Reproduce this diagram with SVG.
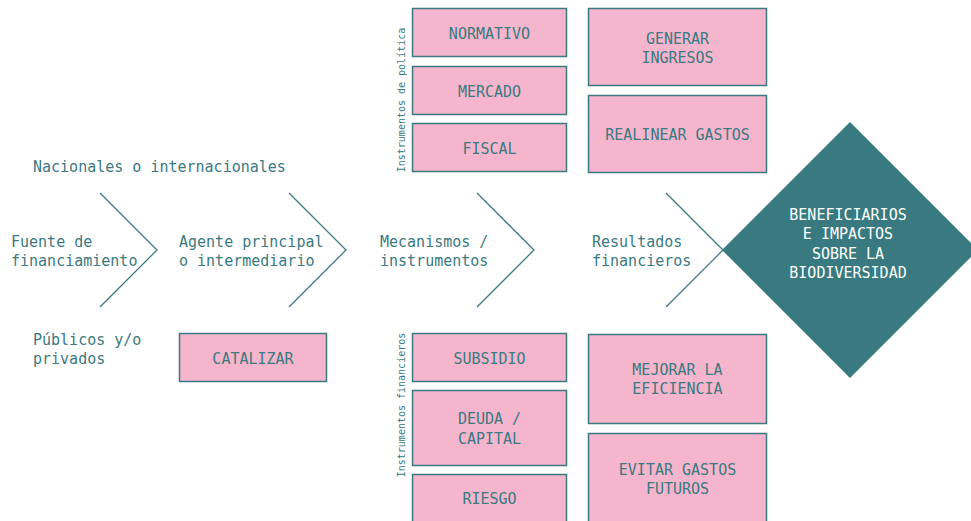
<svg xmlns="http://www.w3.org/2000/svg" width="971" height="521" viewBox="0 0 971 521">
<style>
.box{fill:#f5b5cc;stroke:#3b7a80;stroke-width:1.5}
.bt{font-family:"DejaVu Sans Mono","Liberation Mono",monospace;font-size:15px;fill:#3b7a80;text-anchor:middle}
.lb{font-family:"DejaVu Sans Mono","Liberation Mono",monospace;font-size:15px;fill:#3b7a80}
.vt{font-family:"DejaVu Sans Mono","Liberation Mono",monospace;font-size:10px;fill:#3b7a80;text-anchor:middle}
.chev{fill:none;stroke:#3b7a80;stroke-width:1.3}
.dt{font-family:"DejaVu Sans Mono","Liberation Mono",monospace;font-size:15px;fill:#ffffff;text-anchor:middle}
</style>
<rect width="971" height="521" fill="#ffffff"/>
<g id="connectors">
<polyline class="chev" points="100,193 157,250 100,307"/>
<polyline class="chev" points="289,193 346,250 289,307"/>
<polyline class="chev" points="477,193 534,250 477,307"/>
<polyline class="chev" points="666,193 723,250 666,307"/>
</g>
<g id="labels">
<text class="lb" x="33" y="172">Nacionales o internacionales</text>
<text class="lb" x="33" y="345">Públicos y/o</text>
<text class="lb" x="33" y="364">privados</text>
<text class="vt" transform="translate(405,100) rotate(-90)">Instrumentos de política</text>
<text class="vt" transform="translate(405,405) rotate(-90)">Instrumentos financieros</text>
</g>
<g id="fuente"><text class="lb" x="11" y="247">Fuente de</text><text class="lb" x="11" y="266">financiamiento</text></g>
<g id="agente"><text class="lb" x="179" y="247">Agente principal</text><text class="lb" x="179" y="266">o intermediario</text></g>
<g id="mecanismos"><text class="lb" x="380" y="247">Mecanismos /</text><text class="lb" x="380" y="266">instrumentos</text></g>
<g id="resultados"><text class="lb" x="592" y="247">Resultados</text><text class="lb" x="592" y="266">financieros</text></g>
<g id="normativo"><rect class="box" x="412.5" y="8.5" width="154" height="48"/><text class="bt" x="489.5" y="39">NORMATIVO</text></g>
<g id="mercado"><rect class="box" x="412.5" y="66.5" width="154" height="48"/><text class="bt" x="489.5" y="97">MERCADO</text></g>
<g id="fiscal"><rect class="box" x="412.5" y="123.5" width="154" height="48"/><text class="bt" x="489.5" y="154">FISCAL</text></g>
<g id="generar"><rect class="box" x="588.5" y="8.5" width="178" height="77"/><text class="bt" x="677.5" y="44">GENERAR</text><text class="bt" x="677.5" y="63">INGRESOS</text></g>
<g id="realinear"><rect class="box" x="588.5" y="95.5" width="178" height="77"/><text class="bt" x="677.5" y="140">REALINEAR GASTOS</text></g>
<g id="catalizar"><rect class="box" x="179.5" y="333.5" width="147" height="48"/><text class="bt" x="253" y="364">CATALIZAR</text></g>
<g id="subsidio"><rect class="box" x="412.5" y="333.5" width="154" height="48"/><text class="bt" x="489.5" y="364">SUBSIDIO</text></g>
<g id="deuda"><rect class="box" x="412.5" y="390.5" width="154" height="75"/><text class="bt" x="489.5" y="424">DEUDA /</text><text class="bt" x="489.5" y="444">CAPITAL</text></g>
<g id="riesgo"><rect class="box" x="412.5" y="474.5" width="154" height="50"/><text class="bt" x="489.5" y="504">RIESGO</text></g>
<g id="mejorar"><rect class="box" x="588.5" y="334.5" width="178" height="89"/><text class="bt" x="677.5" y="375">MEJORAR LA</text><text class="bt" x="677.5" y="394">EFICIENCIA</text></g>
<g id="evitar"><rect class="box" x="588.5" y="433.5" width="178" height="92"/><text class="bt" x="677.5" y="475">EVITAR GASTOS</text><text class="bt" x="677.5" y="494">FUTUROS</text></g>
<g id="beneficiarios">
<polygon points="850,122 978,250 850,378 722,250" fill="#387a80"/>
<text class="dt" x="848" y="220">BENEFICIARIOS</text>
<text class="dt" x="848" y="239">E IMPACTOS</text>
<text class="dt" x="848" y="259">SOBRE LA</text>
<text class="dt" x="848" y="278">BIODIVERSIDAD</text>
</g>
</svg>
